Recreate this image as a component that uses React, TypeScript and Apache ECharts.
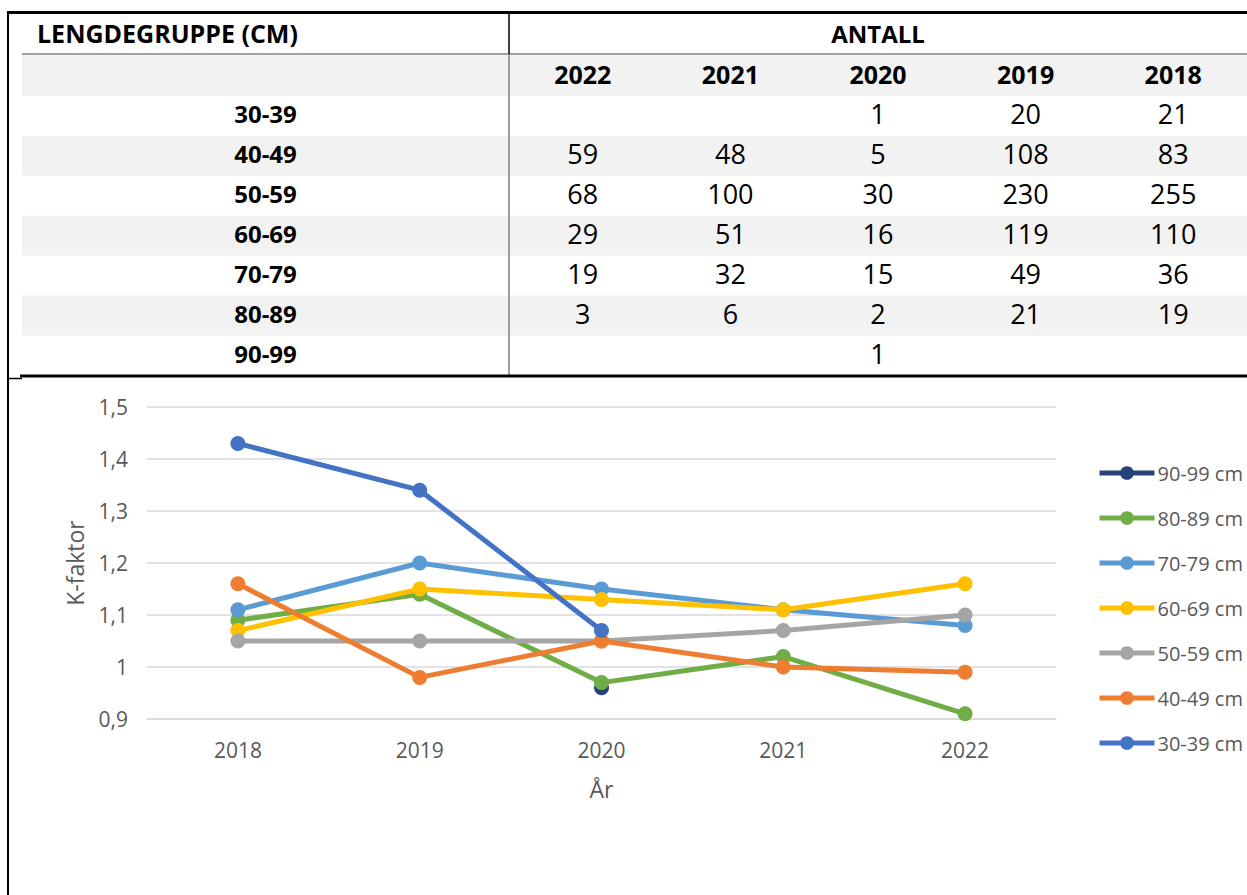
import React, { useEffect, useRef } from "react";
import * as echarts from "echarts";

// ---------- Table data ----------
const lengthGroups = ["30-39", "40-49", "50-59", "60-69", "70-79", "80-89", "90-99"];
const tableYears = ["2022", "2021", "2020", "2019", "2018"];
const count2022 = [null, 59, 68, 29, 19, 3, null];
const count2021 = [null, 48, 100, 51, 32, 6, null];
const count2020 = [1, 5, 30, 16, 15, 2, 1];
const count2019 = [20, 108, 230, 119, 49, 21, null];
const count2018 = [21, 83, 255, 110, 36, 19, null];
const countsByYear = [count2022, count2021, count2020, count2019, count2018];

// ---------- Chart data ----------
const years = ["2018", "2019", "2020", "2021", "2022"];
const k90_99 = [null, null, 0.96, null, null];
const k80_89 = [1.09, 1.14, 0.97, 1.02, 0.91];
const k70_79 = [1.11, 1.2, 1.15, 1.11, 1.08];
const k60_69 = [1.07, 1.15, 1.13, 1.11, 1.16];
const k50_59 = [1.05, 1.05, 1.05, 1.07, 1.1];
const k40_49 = [1.16, 0.98, 1.05, 1.0, 0.99];
const k30_39 = [1.43, 1.34, 1.07, null, null];

const seriesNames = ["90-99 cm", "80-89 cm", "70-79 cm", "60-69 cm", "50-59 cm", "40-49 cm", "30-39 cm"];
const seriesData = [k90_99, k80_89, k70_79, k60_69, k50_59, k40_49, k30_39];
const seriesColors = ["#264478", "#70AD47", "#5B9BD5", "#FFC000", "#A5A5A5", "#ED7D31", "#4472C4"];

const FONT = "'Open Sans', 'DejaVu Sans', sans-serif";

function txt(text: string, x: number, y: number, size: number, bold: boolean, align = "center") {
  return {
    type: "text",
    silent: true,
    style: {
      text,
      x,
      y,
      fill: "#000",
      fontSize: size,
      fontWeight: bold ? "bold" : "normal",
      fontFamily: FONT,
      textAlign: align,
      align,
      textVerticalAlign: "middle",
      verticalAlign: "middle",
    },
  };
}

function buildTable() {
  const els: any[] = [];
  const left = 22;
  const right = 1247;
  const divX = 509;
  const rowTop = 96;
  const rowH = 39.9;
  const colW = (right - divX) / tableYears.length;

  els.push({ type: "rect", silent: true, shape: { x: left, y: 55, width: right - left, height: rowTop - 55 }, style: { fill: "#F2F2F2" } });
  lengthGroups.forEach((_, i) => {
    if (i % 2 === 1) {
      els.push({
        type: "rect",
        silent: true,
        shape: { x: left, y: rowTop + i * rowH, width: right - left, height: rowH },
        style: { fill: "#F2F2F2" },
      });
    }
  });
  els.push({ type: "line", silent: true, shape: { x1: 8, y1: 12.5, x2: 1247, y2: 12.5 }, style: { stroke: "#000", lineWidth: 3 } });
  els.push({ type: "line", silent: true, shape: { x1: 8, y1: 11, x2: 8, y2: 895 }, style: { stroke: "#000", lineWidth: 2 } });
  els.push({ type: "line", silent: true, shape: { x1: left, y1: 54, x2: right, y2: 54 }, style: { stroke: "#808080", lineWidth: 1.5 } });
  els.push({ type: "line", silent: true, shape: { x1: divX, y1: 12, x2: divX, y2: 54 }, style: { stroke: "#000", lineWidth: 1.5 } });
  els.push({ type: "line", silent: true, shape: { x1: divX, y1: 54, x2: divX, y2: 376 }, style: { stroke: "#808080", lineWidth: 1.5 } });
  els.push({ type: "line", silent: true, shape: { x1: 20, y1: 376, x2: 1247, y2: 376 }, style: { stroke: "#000", lineWidth: 3 } });
  els.push({ type: "line", silent: true, shape: { x1: 8, y1: 378.5, x2: 22, y2: 378.5 }, style: { stroke: "#000", lineWidth: 1.5 } });

  els.push(txt("LENGDEGRUPPE (CM)", 37, 33, 25, true, "left"));
  els.push(txt("ANTALL", divX + (right - divX) / 2, 33, 24, true));
  tableYears.forEach((y, j) => {
    els.push(txt(y, divX + colW * (j + 0.5), 74, 25, true));
  });
  lengthGroups.forEach((g, i) => {
    const cy = rowTop + i * rowH + rowH / 2 - 2;
    els.push(txt(g, (left + divX) / 2, cy, 24, true));
    countsByYear.forEach((arr, j) => {
      const v = arr[i];
      if (v !== null && v !== undefined) {
        els.push(txt(String(v), divX + colW * (j + 0.5), cy, 27, false));
      }
    });
  });
  return els;
}

export default function App() {
  const ref = useRef<HTMLDivElement>(null);

  useEffect(() => {
    if (!ref.current) return;
    const chart = echarts.init(ref.current, undefined, { renderer: "svg" });
    const labelColor = "#595959";
    chart.setOption({
      animation: false,
      backgroundColor: "#fff",
      graphic: { elements: buildTable() },
      legend: {
        orient: "vertical",
        left: 1097,
        top: 463,
        padding: 0,
        itemWidth: 55,
        itemHeight: 17,
        itemGap: 25,
        lineStyle: { width: 5 },
        textStyle: { color: labelColor, fontSize: 20, fontFamily: FONT, lineHeight: 20, padding: [0, 0, 0, -2] },
        data: seriesNames,
      },
      grid: { left: 147, right: 191, top: 407, bottom: 176, containLabel: false },
      xAxis: {
        type: "category",
        data: years,
        boundaryGap: true,
        axisLine: { show: true, lineStyle: { color: "#D9D9D9", width: 1.5 } },
        axisTick: { show: false },
        axisLabel: { color: labelColor, fontSize: 21, fontFamily: FONT, margin: 20 },
        name: "År",
        nameLocation: "middle",
        nameGap: 58,
        nameTextStyle: { color: labelColor, fontSize: 23, fontFamily: FONT },
      },
      yAxis: {
        type: "value",
        min: 0.9,
        max: 1.5,
        interval: 0.1,
        axisLine: { show: false },
        axisTick: { show: false },
        splitLine: { lineStyle: { color: "#D9D9D9", width: 1.5 } },
        axisLabel: {
          color: labelColor,
          fontSize: 21,
          fontFamily: FONT,
          margin: 19,
          formatter: (v: number) => String(Math.round(v * 10) / 10).replace(".", ","),
        },
        name: "K-faktor",
        nameLocation: "middle",
        nameRotate: 90,
        nameGap: 61,
        nameTextStyle: { color: labelColor, fontSize: 23, fontFamily: FONT },
      },
      series: seriesNames.map((name, i) => ({
        name,
        type: "line",
        data: seriesData[i],
        connectNulls: false,
        symbol: "circle",
        symbolSize: 15,
        showAllSymbol: true,
        color: seriesColors[i],
        lineStyle: { width: 5, color: seriesColors[i] },
        itemStyle: { color: seriesColors[i] },
        z: 2 + i,
      })),
    });
    return () => chart.dispose();
  }, []);

  return (
    <div
      ref={ref}
      style={{ position: "absolute", left: 0, top: 0, width: 1247, height: 895, background: "#fff" }}
    />
  );
}
